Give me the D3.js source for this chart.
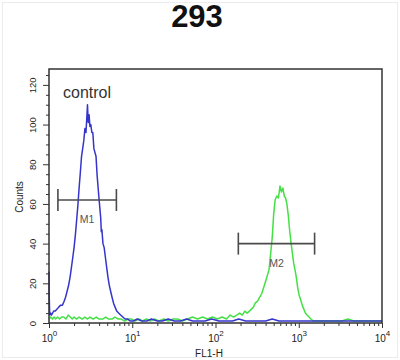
<!DOCTYPE html>
<html lang="en">
<head>
<meta charset="UTF-8">
<title>293 - FL1-H histogram</title>
<script src="https://d3js.org/d3.v7.min.js"></script>
<style>
  body { margin: 0; background: #fff; }
  svg { font-family: "Liberation Sans", Arial, sans-serif; }
  .trace { fill: none; stroke-width: 1.5px; stroke-linejoin: round; }
  .axis path, .axis line { stroke: #333; }
  .axis text { fill: #222; }
  .marker { stroke: #4a4a4a; stroke-width: 1.6px; }
</style>
</head>
<body>
<script>

// ---- data ----
var title = "293";

// control (blue) histogram: FL1-H value, counts
var blueFL = [1.00,1.005,1.02,1.04,1.07,1.10,1.14,1.19,1.25,1.31,1.38,1.45,1.52,1.58,1.65,1.72,1.79,1.86,1.93,2.00,
  2.07,2.14,2.22,2.30,2.38,2.46,2.54,2.62,2.70,2.78,2.85,2.90,2.96,3.03,3.10,3.18,3.27,3.36,3.46,3.56,
  3.67,3.79,3.91,4.04,4.18,4.25,4.32,4.45,4.60,4.76,4.93,5.11,5.30,5.50,5.72,5.96,6.22,6.50,6.85,7.25,
  7.7,8.2,8.8,9.5,10.3,11.5,13,15,17,20,23,27,32,38,45,53,63,75,90,110,
  130,160,190,230,280,340,400,480,580,700,850,1000,1200,1500,1800,2200,2700,3300,4000,5000,6000,7500,10000];
var blueCounts = [26,14,4,5,4,5,6,6,7,8,9,9,11,13,16,19,23,28,33,38,
  44,51,59,68,76,84,88,92,98,96,104,110,101,105,99,100,96,96,88,86,
  84,74,67,60,53,46,47,40,38,33,28,23,19,16,13,10,8,6,5,4,
  3,2,2,1,1,2,1,1,2,1,1,2,1,1,2,1,1,1,2,1,
  1,1,2,1,1,1,1,2,1,1,1,1,1,1,1,1,1,1,1,1,1,1,1];

// sample (green) histogram
var greenFL = [1.00,1.05,1.1,1.15,1.2,1.27,1.34,1.42,1.5,1.6,1.7,1.8,1.9,2.0,2.15,2.3,2.5,2.7,2.9,3.1,
  3.4,3.7,4.0,4.4,4.8,5.2,5.7,6.2,6.8,7.4,8.1,8.9,9.8,10.8,12,13.3,14.8,16.5,18.5,21,
  24,27,31,35,40,46,53,61,70,80,92,105,120,135,150,165,180,195,210,225,
  240,255,270,285,300,320,340,360,380,400,420,440,460,480,500,520,545,570,595,620,
  645,670,695,720,750,780,810,840,870,900,935,970,1010,1050,1100,1150,1200,1260,1330,1400,
  1500,1600,1750,1900,2100,2400,2800,3300,3900,4600,5500,6500,8000,10000];
var greenCounts = [2,3,2,3,2,3,2,3,3,2,4,3,2,3,2,3,2,3,2,3,
  2,3,2,2,3,2,2,3,2,2,1,2,2,1,2,1,2,1,2,1,
  2,1,2,2,1,2,3,2,3,2,3,2,3,2,4,3,4,5,4,6,
  5,6,7,8,10,11,13,15,18,21,24,27,35,43,55,62,64,63,69,66,
  68,64,63,60,54,46,40,35,30,27,23,18,14,12,9,7,5,4,3,2,
  1,1,1,1,1,1,1,1,2,1,1,1,1,1];

// gate markers
var markerNames = ["M1", "M2"];
var markerFrom = [1.28, 188];
var markerTo = [6.45, 1550];
var markerLevel = [62, 40];

// ticks
var xMajor = [1, 10, 100, 1000, 10000];
var yMajor = [0, 20, 40, 60, 80, 100, 120];

// ---- layout ----
var W = 400, H = 360;
var margin = {top: 69, right: 18, bottom: 37, left: 49};
var width = W - margin.left - margin.right,
    height = H - margin.top - margin.bottom;

var svg = d3.select("body").append("svg")
    .attr("width", W)
    .attr("height", H);

// faint image border
svg.append("rect")
    .attr("x", 2.5).attr("y", 2.5)
    .attr("width", W - 5).attr("height", H - 5)
    .attr("fill", "none").attr("stroke", "#ececec");

var g = svg.append("g")
    .attr("transform", "translate(" + margin.left + "," + margin.top + ")");

var x = d3.scaleLog().domain([1, 10000]).range([0, width]);
var y = d3.scaleLinear().domain([0, 128]).range([height, 0]);

// minor ticks
var xMinor = [];
xMajor.slice(0, -1).forEach(function(d) {
  for (var k = 2; k < 10; k++) xMinor.push(d * k);
});
var yMinor = d3.range(0, 129, 5).filter(function(v) { return v % 20 !== 0; });

// ---- traces ----
var line = d3.line()
    .x(function(d) { return x(d[0]); })
    .y(function(d) { return y(d[1]); });

g.append("path")
    .datum(d3.zip(greenFL, greenCounts))
    .attr("class", "trace")
    .attr("stroke", "#45e045")
    .attr("d", line);

g.append("path")
    .datum(d3.zip(blueFL, blueCounts))
    .attr("class", "trace")
    .attr("stroke", "#3535cc")
    .attr("d", line);

// ---- frame ----
g.append("rect")
    .attr("width", width).attr("height", height)
    .attr("fill", "none").attr("stroke", "#333").attr("stroke-width", 1.5);

// ---- axes ----
var xAx = g.append("g")
    .attr("class", "axis")
    .attr("transform", "translate(0," + height + ")")
    .call(d3.axisBottom(x).tickValues(xMajor).tickSize(5).tickFormat(""));
xAx.select(".domain").remove();
xAx.selectAll(".tick text")
    .attr("y", 19).attr("dy", 0)
    .style("font-size", "10px")
    .each(function(d) {
      var t = d3.select(this);
      t.append("tspan").text("10");
      t.append("tspan").attr("dy", -6).style("font-size", "8px").text(Math.round(Math.log10(d)));
    });

var xMin = g.append("g")
    .attr("class", "axis")
    .attr("transform", "translate(0," + height + ")")
    .call(d3.axisBottom(x).tickValues(xMinor).tickSize(3).tickFormat(""));
xMin.select(".domain").remove();

var yAx = g.append("g")
    .attr("class", "axis")
    .call(d3.axisLeft(y).tickValues(yMajor).tickSize(6));
yAx.select(".domain").remove();
yAx.selectAll(".tick text")
    .attr("transform", "rotate(-90)")
    .attr("x", 0).attr("y", -13).attr("dy", 0)
    .style("text-anchor", "middle")
    .style("font-size", "9.5px");

var yMin = g.append("g")
    .attr("class", "axis")
    .call(d3.axisLeft(y).tickValues(yMinor).tickSize(3).tickFormat(""));
yMin.select(".domain").remove();

// ---- markers ----
var mk = g.selectAll(".mk")
    .data(markerNames)
  .enter().append("g")
    .attr("class", "mk");

mk.append("line")
    .attr("class", "marker")
    .attr("x1", function(d, i) { return x(markerFrom[i]); })
    .attr("x2", function(d, i) { return x(markerTo[i]); })
    .attr("y1", function(d, i) { return y(markerLevel[i]); })
    .attr("y2", function(d, i) { return y(markerLevel[i]); });

[markerFrom, markerTo].forEach(function(arr) {
  mk.append("line")
      .attr("class", "marker")
      .attr("x1", function(d, i) { return x(arr[i]); })
      .attr("x2", function(d, i) { return x(arr[i]); })
      .attr("y1", function(d, i) { return y(markerLevel[i]) - 11; })
      .attr("y2", function(d, i) { return y(markerLevel[i]) + 11; });
});

mk.append("text")
    .attr("x", function(d, i) { return (x(markerFrom[i]) + x(markerTo[i])) / 2; })
    .attr("y", function(d, i) { return y(markerLevel[i]) + 23; })
    .attr("text-anchor", "middle")
    .style("font-size", "10.5px")
    .style("fill", "#555")
    .text(function(d) { return d; });

// ---- texts ----
g.append("text")
    .attr("x", 14).attr("y", 29)
    .style("font-size", "16px")
    .style("fill", "#333")
    .text("control");

svg.append("text")
    .attr("x", 197).attr("y", 27)
    .attr("text-anchor", "middle")
    .style("font-size", "31px")
    .style("font-weight", "bold")
    .style("fill", "#111")
    .text(title);

svg.append("text")
    .attr("transform", "translate(23,197) rotate(-90)")
    .attr("text-anchor", "middle")
    .style("font-size", "10px")
    .style("fill", "#222")
    .text("Counts");

svg.append("text")
    .attr("x", 209).attr("y", 357)
    .attr("text-anchor", "middle")
    .style("font-size", "10px")
    .style("fill", "#222")
    .text("FL1-H");

</script>
</body>
</html>
